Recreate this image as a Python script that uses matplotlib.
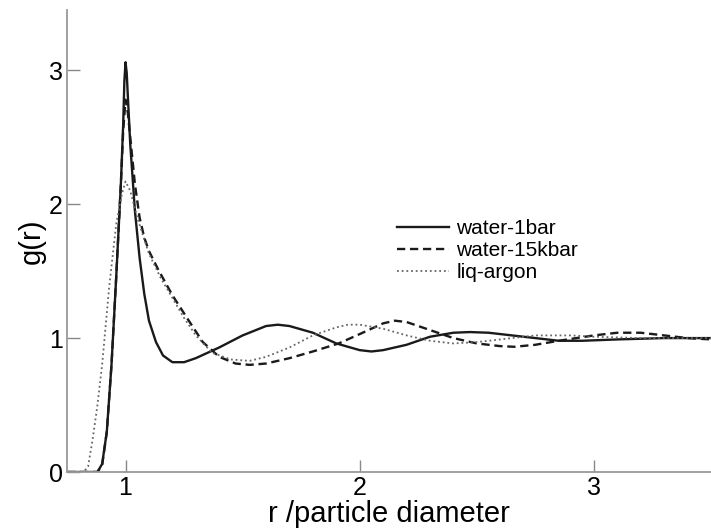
import matplotlib.pyplot as plt

plt.rcParams['font.family'] = ['Liberation Sans', 'DejaVu Sans']

# water at 1 bar
r_w1 = [0.75, 0.88, 0.90, 0.92, 0.94, 0.96, 0.98, 0.99, 0.995, 1.00, 1.005, 1.01, 1.02,
        1.04, 1.06, 1.08, 1.10, 1.13, 1.16, 1.20, 1.25, 1.30, 1.40, 1.50, 1.60, 1.65,
        1.70, 1.80, 1.90, 2.00, 2.05, 2.10, 2.20, 2.30, 2.40, 2.47, 2.55, 2.65, 2.75,
        2.85, 2.95, 3.10, 3.30, 3.50]
g_w1 = [0.0, 0.0, 0.06, 0.30, 0.80, 1.45, 2.15, 2.60, 2.92, 3.06, 2.98, 2.80, 2.45,
        1.95, 1.60, 1.33, 1.13, 0.97, 0.87, 0.82, 0.82, 0.85, 0.93, 1.02, 1.09, 1.10,
        1.09, 1.04, 0.96, 0.91, 0.90, 0.91, 0.95, 1.01, 1.04, 1.045, 1.04, 1.02, 1.00,
        0.98, 0.98, 0.99, 1.00, 1.00]

# water at 15 kbar
r_w15 = [0.75, 0.88, 0.90, 0.92, 0.94, 0.96, 0.98, 0.99, 1.00, 1.01, 1.02, 1.04, 1.06,
         1.08, 1.10, 1.14, 1.20, 1.27, 1.33, 1.40, 1.47, 1.53, 1.60, 1.70, 1.80, 1.91,
         2.00, 2.10, 2.15, 2.20, 2.30, 2.40, 2.50, 2.60, 2.66, 2.75, 2.85, 3.00, 3.10,
         3.20, 3.30, 3.40, 3.50]
g_w15 = [0.0, 0.0, 0.05, 0.30, 0.80, 1.45, 2.15, 2.55, 2.78, 2.68, 2.50, 2.15, 1.90,
         1.75, 1.65, 1.51, 1.32, 1.13, 0.97, 0.86, 0.81, 0.80, 0.81, 0.85, 0.90, 0.96,
         1.03, 1.11, 1.13, 1.12, 1.06, 1.00, 0.96, 0.94, 0.935, 0.95, 0.98, 1.02, 1.04,
         1.04, 1.02, 1.00, 0.99]

# liquid argon
r_ar = [0.75, 0.82, 0.84, 0.86, 0.88, 0.90, 0.93, 0.96, 0.985, 1.00, 1.02, 1.05, 1.10,
        1.15, 1.19, 1.25, 1.30, 1.37, 1.45, 1.53, 1.60, 1.70, 1.80, 1.90, 1.95, 2.00,
        2.10, 2.20, 2.30, 2.40, 2.50, 2.60, 2.75, 2.90, 3.00, 3.20, 3.50]
g_ar = [0.0, 0.0, 0.04, 0.25, 0.50, 0.80, 1.38, 1.85, 2.08, 2.17, 2.10, 1.90, 1.63,
        1.45, 1.33, 1.15, 1.02, 0.89, 0.84, 0.83, 0.86, 0.93, 1.02, 1.08, 1.10, 1.10,
        1.07, 1.02, 0.98, 0.96, 0.97, 0.99, 1.02, 1.02, 1.01, 1.00, 1.00]

labels = ['water-1bar', 'water-15kbar', 'liq-argon']
xticks = [1, 2, 3]
yticks = [0, 1, 2, 3]

fig = plt.figure(figsize=(7.11, 5.32), dpi=100)
ax = fig.add_axes([67/711, 1 - 472/532, 1 - 67/711, 462/532])

ax.plot(r_w1, g_w1, color='#1a1a1a', lw=1.7, label=labels[0])
ax.plot(r_w15, g_w15, color='#1a1a1a', lw=1.7, ls=(0, (3.5, 2)), label=labels[1])
ax.plot(r_ar, g_ar, color='#666666', lw=1.3, ls=(0, (1, 1.6)), label=labels[2])

ax.set_xlim(0.75, 3.5)
ax.set_ylim(0, 3.45)
ax.set_xticks(xticks)
ax.set_yticks(yticks)
ax.tick_params(direction='in', length=9, width=1, color='#888888',
               labelsize=18, pad=3)

for s in ['top', 'right']:
    ax.spines[s].set_visible(False)
for s in ['left', 'bottom']:
    ax.spines[s].set_color('#999999')
    ax.spines[s].set_linewidth(1.3)

ax.set_xlabel('r /particle diameter', fontsize=21, labelpad=0)
ax.set_ylabel('g(r)', fontsize=21, labelpad=2)

ax.legend(loc='upper left', bbox_to_anchor=(397/711, 1 - 219/532),
          bbox_transform=fig.transFigure, frameon=False, fontsize=15,
          borderpad=0, borderaxespad=0, handlelength=2.5, handletextpad=0.35,
          labelspacing=0.15)

fig.savefig('out.png', dpi=100)
